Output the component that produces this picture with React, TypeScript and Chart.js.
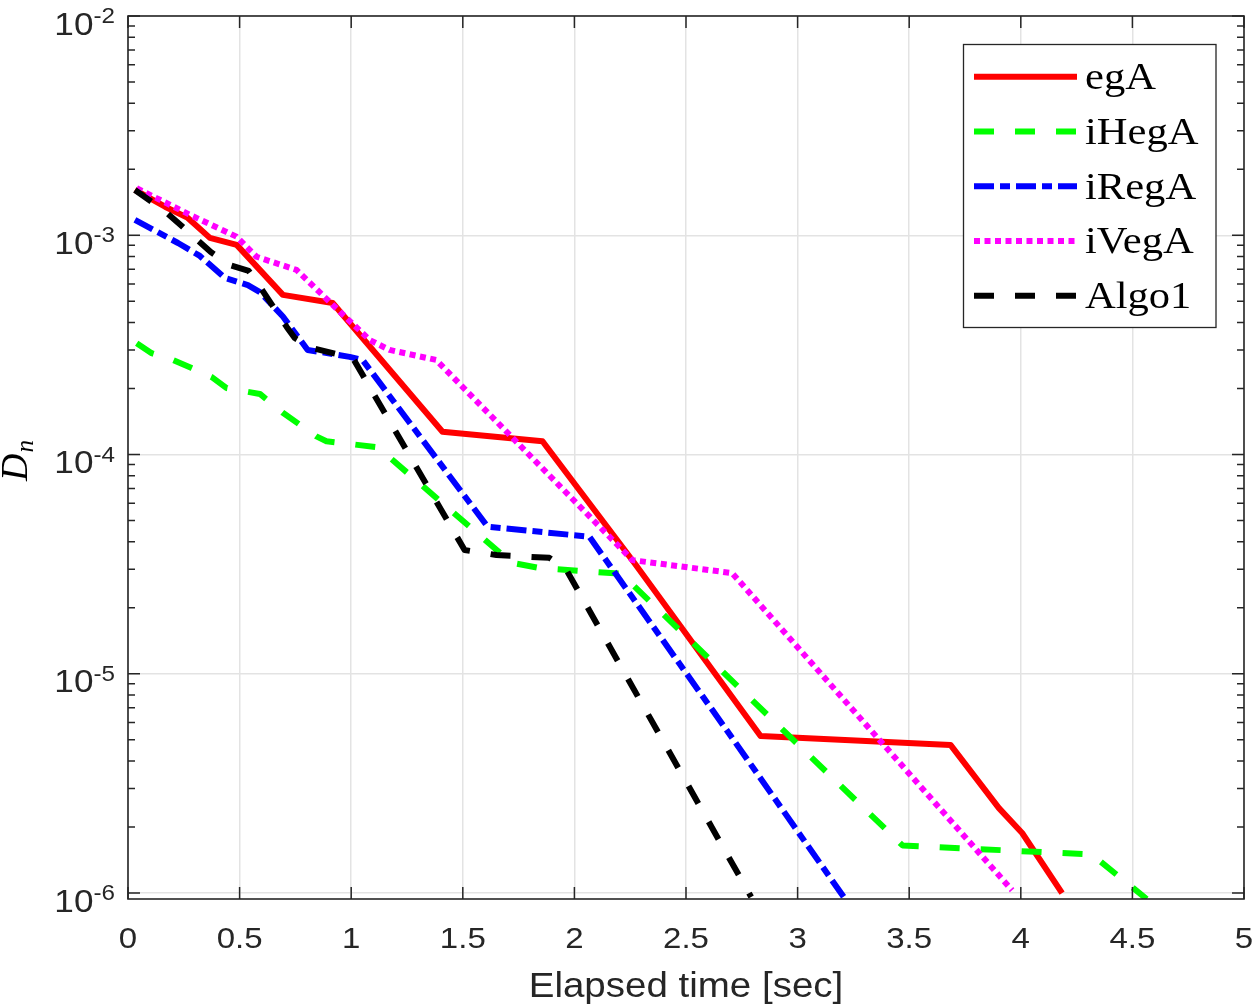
import React, { useEffect, useRef } from 'react';
import { Chart, registerables } from 'chart.js';

Chart.register(...registerables);

// ---- axis ticks ----
const xTickValues = [0, 0.5, 1, 1.5, 2, 2.5, 3, 3.5, 4, 4.5, 5];
const xTickLabels = ['0', '0.5', '1', '1.5', '2', '2.5', '3', '3.5', '4', '4.5', '5'];
const yTickValues = [1e-6, 1e-5, 1e-4, 1e-3, 1e-2];
const yTickExponents = ['-6', '-5', '-4', '-3', '-2'];
const xTitle = 'Elapsed time [sec]';

// ---- series ----
const seriesLabels = ['egA', 'iHegA', 'iRegA', 'iVegA', 'Algo1'];

const egA_t = [0.031, 0.166, 0.268, 0.367, 0.487, 0.694, 0.917, 1.409, 1.857, 2.268, 2.834, 3.685, 3.902, 4.006, 4.185];
const egA_D = [1.61e-3, 1.35e-3, 1.2e-3, 9.73e-4, 9.04e-4, 5.35e-4, 4.91e-4, 1.27e-4, 1.15e-4, 3.21e-5, 5.21e-6, 4.74e-6, 2.44e-6, 1.88e-6, 1.0e-6];

const iHegA_t = [0.039, 0.106, 0.201, 0.285, 0.374, 0.442, 0.591, 0.694, 0.844, 0.889, 1.119, 1.718, 1.843, 2.21, 3.47, 4.318, 4.564];
const iHegA_D = [3.22e-4, 2.9e-4, 2.7e-4, 2.48e-4, 2.26e-4, 2.01e-4, 1.89e-4, 1.55e-4, 1.21e-4, 1.15e-4, 1.08e-4, 3.21e-5, 3.04e-5, 2.86e-5, 1.65e-6, 1.5e-6, 0.94e-6];

const iRegA_t = [0.031, 0.224, 0.322, 0.434, 0.537, 0.591, 0.694, 0.805, 0.993, 1.051, 1.611, 2.067, 2.707, 3.213];
const iRegA_D = [1.175e-3, 9.22e-4, 8.05e-4, 6.39e-4, 5.93e-4, 5.51e-4, 4.26e-4, 3.0e-4, 2.79e-4, 2.7e-4, 4.69e-5, 4.22e-5, 5.1e-6, 0.94e-6];

const iVegA_t = [0.039, 0.277, 0.486, 0.576, 0.755, 0.926, 1.083, 1.172, 1.381, 2.26, 2.707, 3.961];
const iVegA_D = [1.64e-3, 1.24e-3, 9.86e-4, 7.98e-4, 6.95e-4, 4.72e-4, 3.33e-4, 3.0e-4, 2.7e-4, 3.3e-5, 2.88e-5, 1.03e-6];

const Algo1_t = [0.031, 0.107, 0.179, 0.246, 0.371, 0.456, 0.541, 0.6, 0.711, 0.747, 0.823, 1.007, 1.051, 1.508, 1.651, 1.888, 1.964, 2.792];
const Algo1_D = [1.61e-3, 1.42e-3, 1.25e-3, 1.09e-3, 8.39e-4, 7.32e-4, 6.88e-4, 5.64e-4, 3.82e-4, 3.4e-4, 3.06e-4, 2.76e-4, 2.31e-4, 3.67e-5, 3.48e-5, 3.38e-5, 2.98e-5, 0.96e-6];

const toPts = (t: number[], d: number[]) => t.map((v, i) => ({ x: v, y: d[i] }));

const SX = 1.1; // horizontal text stretch

function drawText(ctx: CanvasRenderingContext2D, s: string, x: number, y: number, font: string, align: CanvasTextAlign, sx = SX) {
  ctx.save();
  ctx.font = font;
  ctx.textAlign = align;
  ctx.textBaseline = 'alphabetic';
  ctx.translate(x, y);
  ctx.scale(sx, 1);
  ctx.fillText(s, 0, 0);
  ctx.restore();
}

const axesPlugin = {
  id: 'matlabAxes',
  afterDraw(chart: any) {
    const ctx: CanvasRenderingContext2D = chart.ctx;
    const { left, right, top, bottom } = chart.chartArea;
    const xs = chart.scales.x;
    const ys = chart.scales.y;
    const axisColor = '#262626';

    ctx.save();
    // box
    ctx.strokeStyle = axisColor;
    ctx.lineWidth = 1.6;
    ctx.strokeRect(left, top, right - left, bottom - top);

    // x ticks (inward, bottom and top)
    ctx.lineWidth = 1.5;
    ctx.beginPath();
    xTickValues.forEach((v) => {
      const px = xs.getPixelForValue(v);
      ctx.moveTo(px, bottom);
      ctx.lineTo(px, bottom - 12);
      ctx.moveTo(px, top);
      ctx.lineTo(px, top + 12);
    });
    // y ticks major + minor
    const yMin = ys.min;
    const yMax = ys.max;
    for (let k = -7; k <= -2; k++) {
      for (let m = 1; m <= 9; m++) {
        const v = m * Math.pow(10, k);
        if (v < yMin * 0.999 || v > yMax * 1.001) continue;
        const py = ys.getPixelForValue(v);
        const len = m === 1 ? 12 : 7;
        ctx.moveTo(left, py);
        ctx.lineTo(left + len, py);
        ctx.moveTo(right, py);
        ctx.lineTo(right - len, py);
      }
    }
    ctx.stroke();

    // x tick labels
    ctx.fillStyle = axisColor;
    xTickValues.forEach((v, i) => {
      const px = xs.getPixelForValue(v);
      drawText(ctx, xTickLabels[i], px, bottom + 49, '30px "Liberation Sans", Arial, sans-serif', 'center');
    });

    // y tick labels 10^n
    yTickValues.forEach((v, i) => {
      const py = ys.getPixelForValue(v);
      ctx.font = '22px "Liberation Sans", Arial, sans-serif';
      const wSup = ctx.measureText(yTickExponents[i]).width * SX;
      ctx.font = '32px "Liberation Sans", Arial, sans-serif';
      const wBase = ctx.measureText('10').width * SX;
      const rightEdge = left - 13;
      drawText(ctx, '10', rightEdge - wSup - wBase, py + 18.5, '32px "Liberation Sans", Arial, sans-serif', 'left');
      drawText(ctx, yTickExponents[i], rightEdge - wSup, py + 7, '22px "Liberation Sans", Arial, sans-serif', 'left');
    });

    // x title
    drawText(ctx, xTitle, (left + right) / 2, 997, '35px "Liberation Sans", Arial, sans-serif', 'center');

    // y title D_n (rotated)
    ctx.save();
    ctx.fillStyle = '#000';
    ctx.translate(27, 481);
    ctx.rotate(-Math.PI / 2);
    ctx.font = 'italic 38px "Liberation Serif", "DejaVu Serif", serif';
    ctx.textAlign = 'left';
    ctx.fillText('D', 0, 0);
    const wD = ctx.measureText('D').width;
    ctx.font = 'italic 25px "Liberation Serif", "DejaVu Serif", serif';
    ctx.fillText('n', wD + 1, 6);
    ctx.restore();

    // legend
    const lx0 = 963.5, ly0 = 44.5, lx1 = 1216, ly1 = 327.5;
    ctx.fillStyle = '#ffffff';
    ctx.fillRect(lx0, ly0, lx1 - lx0, ly1 - ly0);
    ctx.strokeStyle = '#262626';
    ctx.lineWidth = 1.3;
    ctx.strokeRect(lx0, ly0, lx1 - lx0, ly1 - ly0);
    chart.data.datasets.forEach((ds: any, i: number) => {
      const yy = 76.7 + i * 54.75;
      ctx.save();
      ctx.strokeStyle = ds.borderColor;
      ctx.lineWidth = ds.borderWidth;
      ctx.lineCap = 'butt';
      ctx.setLineDash(ds.borderDash || []);
      ctx.beginPath();
      ctx.moveTo(974, yy);
      ctx.lineTo(1077, yy);
      ctx.stroke();
      ctx.restore();
      ctx.fillStyle = '#000';
      drawText(ctx, ds.label, 1085, yy + 12.5, '38px "Liberation Serif", "Times New Roman", serif', 'left', 1.12);
    });
    ctx.restore();
  },
};

export default function App() {
  const canvasRef = useRef<HTMLCanvasElement | null>(null);

  useEffect(() => {
    if (!canvasRef.current) return;
    const common = { pointRadius: 0, borderWidth: 6, tension: 0, fill: false, borderCapStyle: 'butt', borderJoinStyle: 'round' };
    const chart = new Chart(canvasRef.current, {
      type: 'line',
      data: {
        datasets: [
          { ...common, label: seriesLabels[0], data: toPts(egA_t, egA_D), borderColor: '#ff0000', borderDash: [], order: 5 },
          { ...common, label: seriesLabels[1], data: toPts(iHegA_t, iHegA_D), borderColor: '#00ff00', borderDash: [20, 21], order: 4 },
          { ...common, label: seriesLabels[2], data: toPts(iRegA_t, iRegA_D), borderColor: '#0000ff', borderDash: [20, 6, 10, 6], order: 3 },
          { ...common, label: seriesLabels[3], data: toPts(iVegA_t, iVegA_D), borderColor: '#ff00ff', borderDash: [6, 4.5], order: 2 },
          { ...common, label: seriesLabels[4], data: toPts(Algo1_t, Algo1_D), borderColor: '#000000', borderDash: [20, 21], order: 1 },
        ] as any,
      },
      options: {
        responsive: false,
        animation: false,
        devicePixelRatio: 1,
        layout: { padding: { left: 128, top: 16, right: 8, bottom: 107 } },
        plugins: { legend: { display: false }, tooltip: { enabled: false } },
        scales: {
          x: {
            type: 'linear',
            min: 0,
            max: 5,
            afterBuildTicks: (s: any) => { s.ticks = xTickValues.map((v) => ({ value: v })); },
            ticks: { display: false },
            grid: { color: '#e3e3e3', lineWidth: 1.5, drawTicks: false },
            border: { display: false },
          },
          y: {
            type: 'logarithmic',
            min: 0.94e-6,
            max: 1e-2,
            afterBuildTicks: (s: any) => { s.ticks = yTickValues.map((v) => ({ value: v, major: true })); },
            ticks: { display: false },
            grid: { color: '#e3e3e3', lineWidth: 1.5, drawTicks: false },
            border: { display: false },
          },
        },
      } as any,
      plugins: [axesPlugin],
    });
    return () => chart.destroy();
  }, []);

  return (
    <div style={{ position: 'absolute', left: 0, top: 0, width: 1252, height: 1006, background: '#fff' }}>
      <canvas ref={canvasRef} width={1252} height={1006} style={{ display: 'block', width: 1252, height: 1006 }} />
    </div>
  );
}
